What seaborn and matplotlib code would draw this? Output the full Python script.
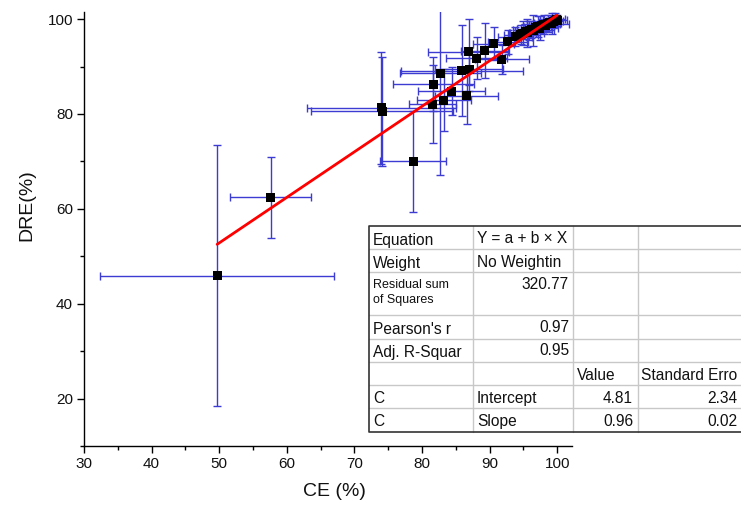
import matplotlib
matplotlib.use("Agg")
import matplotlib.pyplot as plt
import seaborn as sns
import numpy as np
import pandas as pd
from matplotlib.patches import Rectangle

# Conversion efficiency vs. destruction/removal efficiency, with standard deviations
ce = [49.7, 57.6, 74.0, 74.1, 78.7, 81.6, 81.7, 82.7, 83.2, 84.4, 85.9, 86.6,
      87.0, 86.9, 88.1, 89.3, 90.6, 91.8, 92.7, 93.8, 94.6,
      94.9, 95.3, 95.6, 95.9, 96.2, 96.5, 96.8, 97.1, 97.4, 97.7, 98.0, 98.3,
      98.6, 98.9, 99.2, 99.4, 99.7, 99.9, 100.0]
dre = [45.9, 62.4, 81.3, 80.6, 70.0, 82.1, 86.3, 88.6, 82.9, 84.8, 89.1, 83.8,
       89.4, 93.1, 91.8, 93.3, 94.8, 91.5, 95.2, 96.3, 96.7,
       97.0, 97.4, 97.1, 97.6, 97.9, 97.6, 98.2, 98.4, 98.1, 98.7, 98.9, 98.6,
       99.1, 99.3, 99.0, 99.6, 99.8, 100.0, 99.7]
ce_err = [17.3, 6.0, 11.0, 10.5, 4.9, 3.5, 6.0, 6.0, 4.0, 5.0, 9.0, 4.6,
          5.0, 6.0, 4.5, 3.5, 3.0, 4.0, 3.0, 2.5, 2.5,
          2.0, 1.5, 2.5, 1.8, 2.2, 3.0, 1.5, 2.0, 2.8, 1.6, 2.4, 1.2,
          2.0, 1.5, 2.6, 1.0, 1.8, 1.2, 0.8]
dre_err = [27.5, 8.5, 11.8, 11.5, 10.7, 8.2, 5.7, 21.4, 6.5, 5.0, 9.6, 6.0,
           4.5, 7.0, 4.5, 5.8, 3.5, 3.0, 2.5, 2.0, 2.0,
           2.5, 1.5, 3.0, 2.0, 1.8, 3.2, 1.5, 2.2, 2.6, 1.4, 2.0, 1.2,
           1.8, 1.0, 2.2, 1.0, 1.5, 0.8, 1.2]

# Linear fit summary
intercept = 4.81
slope = 0.96
intercept_se = 2.34
slope_se = 0.02
rss = 320.77
pearson_r = 0.97
adj_r2 = 0.95

df = pd.DataFrame({"CE": ce, "DRE": dre, "CE_err": ce_err, "DRE_err": dre_err})
fit_x = np.array([min(ce), max(ce)])
fit = pd.DataFrame({"CE": fit_x, "DRE": intercept + slope * fit_x})

sns.set_theme(style="ticks")
plt.rcParams["font.family"] = ["Liberation Sans", "DejaVu Sans"]

fig = plt.figure(figsize=(7.41, 5.08), dpi=100)
ax = fig.add_axes([84 / 741, 62 / 508, 488 / 741, 434 / 508])

ax.errorbar(df["CE"], df["DRE"], xerr=df["CE_err"], yerr=df["DRE_err"],
            fmt="none", ecolor="#3c3cd2", elinewidth=1.0, capsize=3,
            capthick=1.0, zorder=2)
sns.scatterplot(data=df, x="CE", y="DRE", marker="s", s=42, color="black",
                edgecolor="none", linewidth=0, ax=ax, zorder=3)
sns.lineplot(data=fit, x="CE", y="DRE", color="red", linewidth=2.0, ax=ax,
             zorder=4)

ax.set_xlim(30, 102.2)
ax.set_ylim(10.1, 101.5)
ax.set_xticks(np.arange(30, 101, 10))
ax.set_xticks(np.arange(35, 101, 10), minor=True)
ax.set_yticks(np.arange(20, 101, 20))
ax.set_yticks(np.arange(10, 101, 20), minor=True)
ax.tick_params(axis="both", which="major", length=5, width=1, labelsize=11,
               color="black", labelcolor="#111111", direction="out", pad=3)
ax.tick_params(axis="both", which="minor", length=3, width=1, color="black",
               direction="out")
for side in ("top", "right"):
    ax.spines[side].set_visible(False)
for side in ("left", "bottom"):
    ax.spines[side].set_color("black")
    ax.spines[side].set_linewidth(1.0)

ax.set_xlabel("CE (%)", fontsize=14, color="#111111")
ax.set_ylabel("DRE(%)", fontsize=14, color="#111111")
ax.xaxis.set_label_coords(0.514, -0.085)
ax.yaxis.set_label_coords(-0.1, 0.555)

# Fit statistics table drawn in figure pixel coordinates
tab = fig.add_axes([0, 0, 1, 1], facecolor="none")
tab.set_xlim(0, 741)
tab.set_ylim(508, 0)
tab.axis("off")

cols = [369, 473, 573, 638, 800]
rows = [226, 249, 272, 315, 339, 362, 385, 408, 432]
tab.add_patch(Rectangle((cols[0], rows[0]), cols[-1] - cols[0], rows[-1] - rows[0],
                        facecolor="white", edgecolor="none", zorder=5))
for xv in cols[1:-1]:
    tab.plot([xv, xv], [rows[0], rows[-1]], color="#c8c8c8", lw=1, zorder=6)
for yv in rows[1:-1]:
    tab.plot([cols[0], cols[-1]], [yv, yv], color="#c8c8c8", lw=1, zorder=6)
tab.plot([cols[-1], cols[0], cols[0], cols[-1]],
         [rows[0], rows[0], rows[-1], rows[-1]], color="#333333", lw=1.2, zorder=7)

fs = 11.2
def cell(x, y, s, ha="left", size=fs):
    tab.text(x, y, s, ha=ha, va="center_baseline", fontsize=size,
             color="#111111", zorder=8)

cell(373, 239, "Equation")
cell(477, 237, "Y = a + b \u00d7 X")
cell(373, 262, "Weight")
cell(477, 261, "No Weightin")
cell(373, 284, "Residual sum", size=9)
cell(373, 299, "of Squares", size=9)
cell(569, 283, f"{rss:.2f}", ha="right")
cell(373, 328, "Pearson's r")
cell(569, 326, f"{pearson_r:.2f}", ha="right")
cell(373, 351, "Adj. R-Squar")
cell(569, 349, f"{adj_r2:.2f}", ha="right")
cell(577, 374, "Value")
cell(641, 374, "Standard Erro")
cell(373, 397, "C")
cell(477, 397, "Intercept")
cell(633, 397, f"{intercept:.2f}", ha="right")
cell(737, 397, f"{intercept_se:.2f}", ha="right")
cell(373, 420, "C")
cell(477, 420, "Slope")
cell(633, 420, f"{slope:.2f}", ha="right")
cell(737, 420, f"{slope_se:.2f}", ha="right")

fig.savefig("out.png", dpi=100)
